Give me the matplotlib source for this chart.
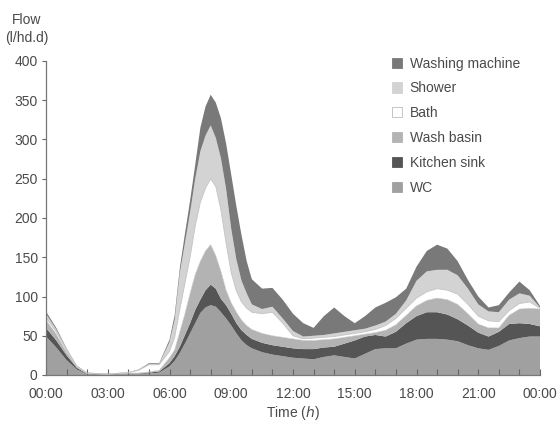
import matplotlib
matplotlib.use("Agg")
import matplotlib.pyplot as plt
from matplotlib.patches import Patch
import numpy as np

plt.rcParams['font.family'] = ['Liberation Sans', 'DejaVu Sans']

# ---------------- data (flow, l/hd.d) ----------------
hours = [0, 0.5, 1, 1.5, 2, 3, 4, 4.5, 5, 5.5,
         6, 6.25, 6.5, 6.75, 7, 7.25, 7.5, 7.75, 8, 8.25, 8.5, 8.75, 9, 9.25, 9.5, 9.75, 10,
         10.5, 11, 11.5, 12, 12.5, 13, 13.5, 14, 14.5, 15, 15.5, 16, 16.5, 17, 17.5, 18,
         18.5, 19, 19.5, 20, 20.5, 21, 21.5, 22, 22.5, 23, 23.5, 24]

wc = [49, 35, 19, 7, 1, 0.5, 1.5, 1.5, 2, 3,
      11, 18, 28, 40, 53, 66, 79, 86, 89, 87, 80, 72, 63, 53, 44, 38, 34,
      29, 26, 24, 22, 21, 20, 23, 25, 23, 21, 27, 33, 34, 34, 40, 45,
      46, 46, 45, 43, 38, 34, 32, 37, 44, 47, 49, 49]

kitchen_sink = [11, 9, 6, 2, 0.5, 0.3, 0.5, 0.5, 1, 1.5,
                4, 6, 8, 11, 13, 17, 17, 22, 26, 23, 17, 17, 15, 13, 13, 13, 12,
                12, 12, 12, 12, 12, 13, 12, 11, 17, 23, 22, 18, 15, 21, 26, 30,
                34, 34, 32, 28, 25, 20, 17, 18, 21, 19, 16, 13]

wash_basin = [10, 8, 4, 1.5, 0.5, 0.2, 0.5, 0.5, 1, 1.5,
              7, 8, 19, 27, 38, 45, 49, 50, 51, 42, 35, 19, 14, 14, 13, 12, 12,
              12, 12, 12, 12, 11, 11, 10, 10, 8, 6, 3, 3, 8, 9, 10, 13,
              15, 18, 19, 19, 15, 11, 11, 5, 11, 18, 20, 22]

bath = [3, 3, 2, 0.5, 0.5, 0.2, 0.5, 3.5, 9, 7,
        8, 16, 28, 39, 46, 62, 75, 80, 84, 88, 78, 60, 38, 27, 23, 22, 22,
        25, 30, 18, 4, 2, 3, 3, 3, 3, 3, 3, 4, 6, 8, 9, 10,
        11, 12, 12, 13, 12, 10, 9, 8, 6, 7, 8, 1]

shower = [5, 3, 2, 0.5, 0.3, 0.3, 0.3, 0.5, 1, 1,
          12, 22, 47, 51, 57, 60, 65, 67, 68, 62, 66, 69, 56, 40, 27, 19, 10,
          6, 7, 6, 6, 3, 3, 3, 4, 4, 4, 4, 5, 5, 6, 10, 22,
          26, 24, 26, 24, 20, 15, 12, 12, 14, 13, 8, 1]

washing_machine = [3, 2, 1, 0.5, 0.2, 0.3, 0.2, 0.5, 1, 1,
                   3, 6, 6, 12, 15, 18, 30, 37, 39, 45, 51, 58, 69, 68, 58, 41, 32,
                   26, 24, 24, 22, 17, 10, 24, 33, 20, 9, 16, 23, 24, 21, 15, 18,
                   26, 32, 27, 18, 11, 10, 5, 9, 9, 15, 7, 2]

series_labels = ["WC", "Kitchen sink", "Wash basin", "Bath", "Shower", "Washing machine"]
series_colors = ["#a0a0a0", "#555555", "#b3b3b3", "#ffffff", "#d3d3d3", "#797979"]

xtick_pos = [0, 3, 6, 9, 12, 15, 18, 21, 24]
xtick_labels = ["00:00", "03:00", "06:00", "09:00", "12:00", "15:00", "18:00", "21:00", "00:00"]
ytick_pos = [0, 50, 100, 150, 200, 250, 300, 350, 400]

# ---------------- figure ----------------
W, H = 558, 421
fig = plt.figure(figsize=(W / 100, H / 100), dpi=100)
ax = fig.add_axes([46 / W, 1 - 375 / H, (540 - 46) / W, (375 - 61) / H])

layers = [wc, kitchen_sink, wash_basin, bath, shower, washing_machine]
ax.stackplot(hours, *layers, colors=series_colors, linewidth=0)

# thin outline of the white (bath) layer
cum = np.cumsum(np.array(layers, dtype=float), axis=0)
ax.plot(hours, cum[3], color="#c4c4c4", lw=0.6)
ax.plot(hours, cum[2], color="#c4c4c4", lw=0.4)

ax.set_xlim(0, 24)
ax.set_ylim(0, 400)

txt = "#4a4a4a"
ax.set_xticks(xtick_pos)
ax.set_xticklabels(xtick_labels)
ax.set_xticks(range(0, 25), minor=True)
ax.set_yticks(ytick_pos)
ax.tick_params(axis="x", which="both", direction="in", length=4, width=0.8,
               color="#666666", labelsize=10, labelcolor=txt, pad=9)
ax.tick_params(axis="y", which="both", direction="out", length=3, width=0.8,
               color="#666666", labelsize=10, labelcolor=txt, pad=3)

for s in ["top", "right"]:
    ax.spines[s].set_visible(False)
for s in ["left", "bottom"]:
    ax.spines[s].set_color("#777777")
    ax.spines[s].set_linewidth(0.9)

ax.set_xlabel("Time ($h$)", fontsize=10, color=txt, labelpad=2)
fig.text(27 / W, 1 - 29 / H, "Flow\n(l/hd.d)", ha="center", va="center",
         fontsize=10, color=txt, linespacing=1.3)

handles = []
for lab, col in zip(series_labels[::-1], series_colors[::-1]):
    handles.append(Patch(facecolor=col, edgecolor="#bbbbbb" if col == "#ffffff" else col,
                         linewidth=0.6, label=lab))
leg = fig.legend(handles=handles, loc="upper left",
                 bbox_to_anchor=(386 / W, 1 - 51 / H), frameon=False,
                 fontsize=10, handlelength=0.75, handleheight=0.75,
                 handletextpad=0.55, labelspacing=0.78, borderaxespad=0)
for t in leg.get_texts():
    t.set_color(txt)

fig.savefig("out.png", dpi=100)
